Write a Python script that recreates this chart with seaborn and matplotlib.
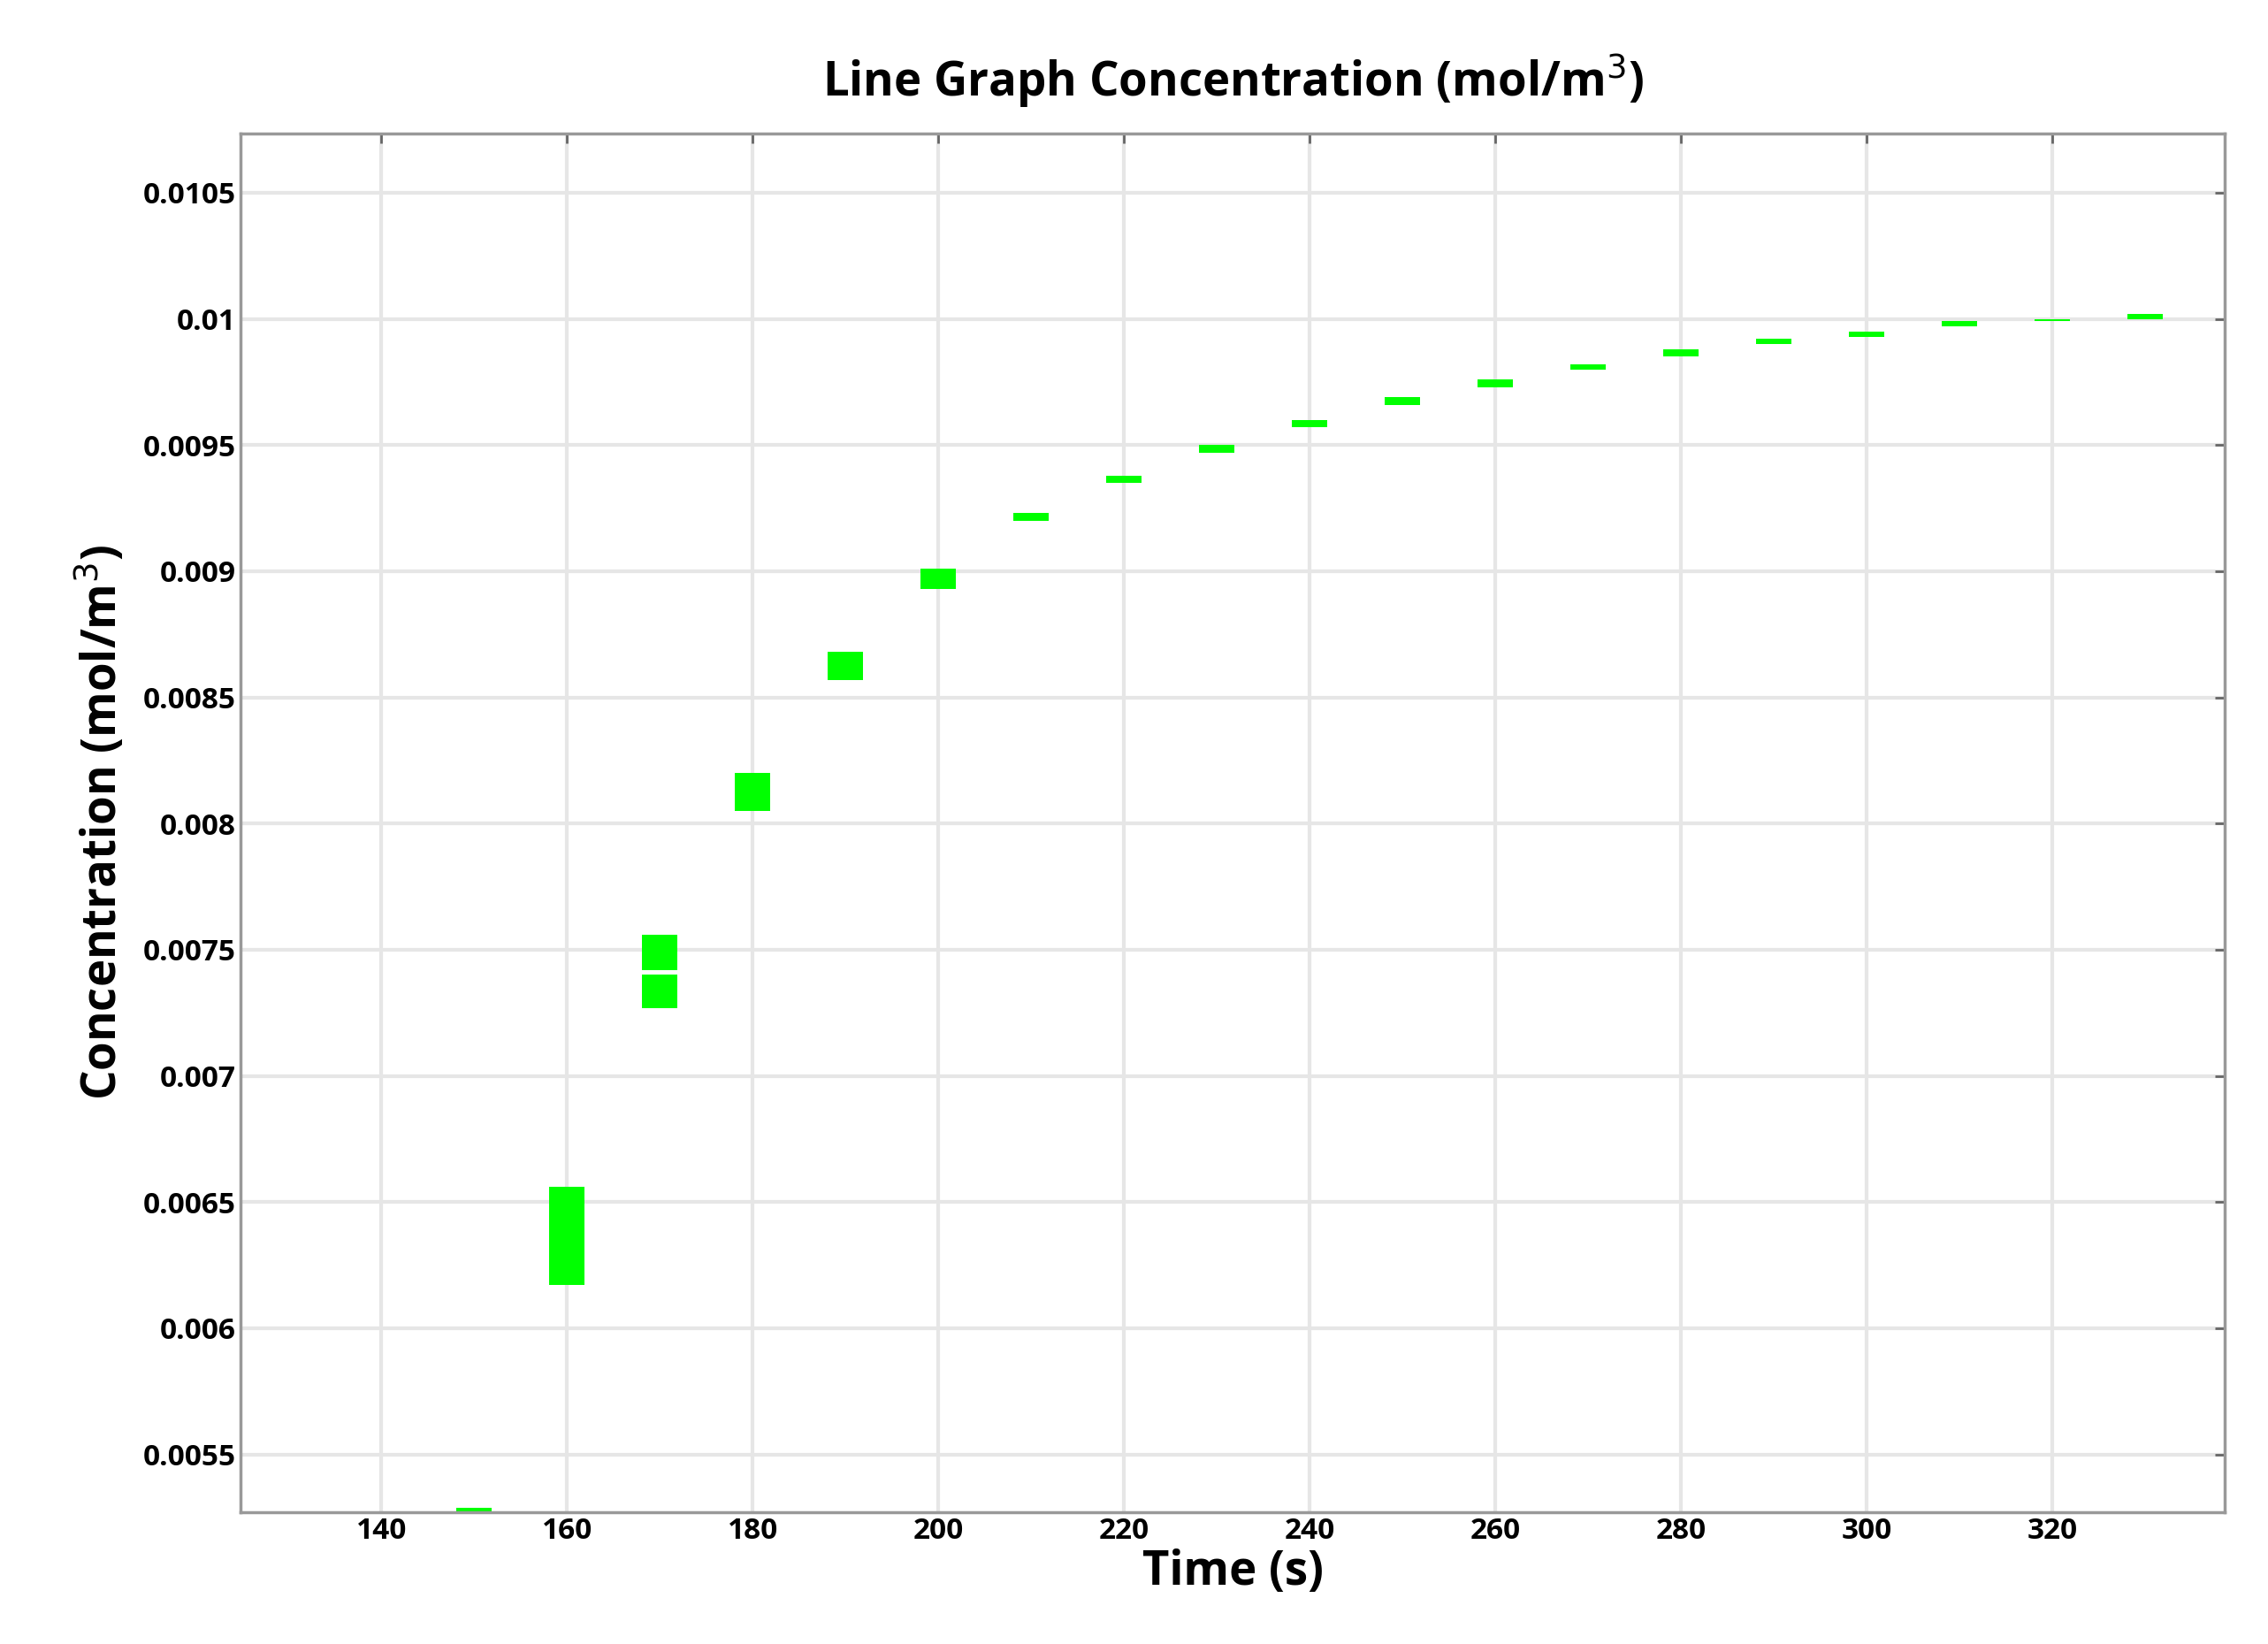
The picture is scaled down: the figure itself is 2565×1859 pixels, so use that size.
import matplotlib
matplotlib.use("Agg")
import matplotlib.pyplot as plt
import seaborn as sns
import pandas as pd

sns.set_style("whitegrid")
plt.rcParams['font.family'] = ['Open Sans', 'DejaVu Sans']

# each time step shows a small green block spanning a concentration range
times = [150, 160, 170, 170, 180, 190, 200, 210, 220, 230, 240, 250, 260, 270, 280, 290, 300, 310, 320, 330]
conc_low = [0.00527, 0.00617, 0.00727, 0.00742, 0.00805, 0.00857, 0.00893, 0.00920, 0.00935, 0.00947,
            0.00957, 0.00966, 0.00973, 0.00980, 0.00985, 0.00990, 0.00993, 0.00997, 0.00999, 0.01000]
conc_high = [0.00529, 0.00656, 0.00740, 0.00756, 0.00820, 0.00868, 0.00901, 0.00923, 0.00938, 0.00950,
             0.00960, 0.00969, 0.00976, 0.00982, 0.00988, 0.00992, 0.00995, 0.00999, 0.01000, 0.01002]

df = pd.DataFrame({"time": times, "low": conc_low, "high": conc_high})

fig = plt.figure(figsize=(25.65, 18.59), dpi=100)
ax = fig.add_axes([0.106, 0.08, 0.875, 0.839])
ax.bar(df["time"], df["high"] - df["low"], bottom=df["low"], width=3.8, color="#00ff00", edgecolor="none")

ax.set_xlim(124.8, 338.6)
ax.set_ylim(0.00527, 0.010736)
ax.set_xticks(range(140, 321, 20))
ax.set_yticks([0.0055, 0.006, 0.0065, 0.007, 0.0075, 0.008, 0.0085, 0.009, 0.0095, 0.01, 0.0105])
ax.set_yticklabels(["0.0055", "0.006", "0.0065", "0.007", "0.0075", "0.008", "0.0085", "0.009", "0.0095", "0.01", "0.0105"])
ax.grid(True, color="#e6e6e6", linewidth=3)
ax.set_axisbelow(True)
for s in ax.spines.values():
    s.set_color("#999999")
    s.set_linewidth(2.5)
ax.tick_params(axis="both", direction="in", length=8, width=2, colors="#666666",
               labelcolor="black", labelsize=24, top=True, right=True)
for lab in ax.get_xticklabels() + ax.get_yticklabels():
    lab.set_fontweight("bold")

ax.set_xlabel("Time (s)", fontsize=38, fontweight="bold", labelpad=2, color="black")
ax.set_ylabel("Concentration (mol/m$^3$)", fontsize=38, fontweight="bold", labelpad=12, color="black")
ax.set_title("Line Graph Concentration (mol/m$^3$)", fontsize=38, fontweight="bold", pad=30, color="black")

fig.savefig("out.png", dpi=100)
